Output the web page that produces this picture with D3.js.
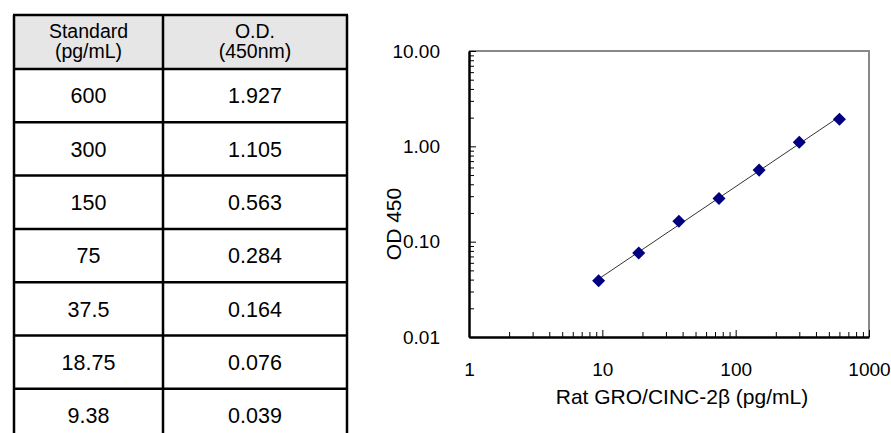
<!DOCTYPE html>
<html>
<head>
<meta charset="utf-8">
<script src="https://cdn.jsdelivr.net/npm/d3@7/dist/d3.min.js"></script>
<style>
  body { margin: 0; background: #fff; }
  svg { display: block; font-family: "Liberation Sans", Arial, sans-serif; }
</style>
</head>
<body>
<svg id="viz" width="891" height="433"></svg>
<script>
// standards table + curve data
const standards = [600, 300, 150, 75, 37.5, 18.75, 9.38]
const standardLabels = ["600", "300", "150", "75", "37.5", "18.75", "9.38"]
const odValues = [1.927, 1.105, 0.563, 0.284, 0.164, 0.076, 0.039]
const odLabels = ["1.927", "1.105", "0.563", "0.284", "0.164", "0.076", "0.039"]
const headerCol1 = ["Standard", "(pg/mL)"]
const headerCol2 = ["O.D.", "(450nm)"]
const yMajorTicks = [0.01, 0.1, 1, 10]
const xMajorTicks = [1, 10, 100, 1000]

const svg = d3.select("#viz")

// ---- table ----
const tbl = { left: 14, mid: 163, right: 347, top: 15, headBottom: 69, rowH: 53.3 }
const table = svg.append("g")

table.append("rect")
  .attr("x", tbl.left).attr("y", tbl.top)
  .attr("width", tbl.right - tbl.left).attr("height", tbl.headBottom - tbl.top)
  .attr("fill", "#e6e6e6")

const rowY = d3.range(standards.length + 1).map(i => tbl.headBottom + i * tbl.rowH)

// horizontal lines
table.selectAll(".hline").data([tbl.top, ...rowY]).enter().append("line")
  .attr("x1", tbl.left - 1).attr("x2", tbl.right + 1)
  .attr("y1", d => d).attr("y2", d => d)
  .attr("stroke", "#000").attr("stroke-width", 2.5)

// vertical lines
table.selectAll(".vline").data([tbl.left, tbl.mid, tbl.right]).enter().append("line")
  .attr("x1", d => d).attr("x2", d => d)
  .attr("y1", tbl.top).attr("y2", 440)
  .attr("stroke", "#000").attr("stroke-width", 2.5)

const c1 = (tbl.left + tbl.mid) / 2, c2 = (tbl.mid + tbl.right) / 2

function headerText(lines, cx) {
  table.selectAll(null).data(lines).enter().append("text")
    .attr("x", cx)
    .attr("y", (d, i) => 38 + i * 20)
    .attr("text-anchor", "middle")
    .attr("font-size", 19.5)
    .text(d => d)
}
headerText(headerCol1, c1)
headerText(headerCol2, c2)

table.selectAll(".std").data(standardLabels).enter().append("text")
  .attr("x", c1)
  .attr("y", (d, i) => rowY[i] + tbl.rowH / 2)
  .attr("dy", "0.36em")
  .attr("text-anchor", "middle")
  .attr("font-size", 21.5)
  .text(d => d)

table.selectAll(".od").data(odLabels).enter().append("text")
  .attr("x", c2)
  .attr("y", (d, i) => rowY[i] + tbl.rowH / 2)
  .attr("dy", "0.36em")
  .attr("text-anchor", "middle")
  .attr("font-size", 21.5)
  .text(d => d)

// ---- chart ----
const plot = { left: 469, right: 869, top: 51, bottom: 337 }

const x = d3.scaleLog().domain([1, 1000]).range([plot.left, plot.right])
const y = d3.scaleLog().domain([0.01, 10]).range([plot.bottom, plot.top])

const minorOf = ticks => d3.merge(ticks.slice(0, -1).map(t => d3.range(2, 10).map(k => t * k)))

const chart = svg.append("g")

// top/right frame (gray)
chart.append("path")
  .attr("d", `M${plot.left},${plot.top}H${plot.right}V${plot.bottom}`)
  .attr("fill", "none").attr("stroke", "#888").attr("stroke-width", 2)

// y axis
chart.append("g")
  .attr("transform", `translate(${plot.left},0)`)
  .call(d3.axisLeft(y).tickValues(minorOf(yMajorTicks)).tickSizeInner(-5).tickSizeOuter(0).tickFormat(""))
  .call(g => g.select(".domain").remove())
chart.append("g")
  .attr("transform", `translate(${plot.left},0)`)
  .call(d3.axisLeft(y).tickValues(yMajorTicks).tickSizeInner(-7).tickSizeOuter(0).tickPadding(29).tickFormat(d3.format(".2f")))
  .call(g => g.select(".domain").attr("stroke-width", 2.5))
  .call(g => g.selectAll("text").attr("font-size", 19).attr("font-family", null).attr("fill", "#000"))

// x axis
chart.append("g")
  .attr("transform", `translate(0,${plot.bottom})`)
  .call(d3.axisBottom(x).tickValues(minorOf(xMajorTicks)).tickSizeInner(-5).tickSizeOuter(0).tickFormat(""))
  .call(g => g.select(".domain").remove())
chart.append("g")
  .attr("transform", `translate(0,${plot.bottom})`)
  .call(d3.axisBottom(x).tickValues(xMajorTicks).tickSizeInner(-7).tickSizeOuter(0).tickPadding(26).tickFormat(d3.format("d")))
  .call(g => g.select(".domain").attr("stroke-width", 2.5))
  .call(g => g.selectAll("text").attr("font-size", 19).attr("font-family", null).attr("fill", "#000"))

chart.selectAll(".tick line").attr("stroke", "#000")

// axis titles
chart.append("text")
  .attr("x", 682)
  .attr("y", 404)
  .attr("text-anchor", "middle")
  .attr("font-size", 21)
  .text("Rat GRO/CINC-2β (pg/mL)")

chart.append("text")
  .attr("transform", "translate(401,224) rotate(-90)")
  .attr("text-anchor", "middle")
  .attr("font-size", 21)
  .text("OD 450")

// power trendline (least squares in log-log), spanning the data range
const pts = standards.map((s, i) => ({ x: s, y: odValues[i] })).sort((a, b) => a.x - b.x)
const lx = pts.map(d => Math.log10(d.x)), ly = pts.map(d => Math.log10(d.y))
const mx = d3.mean(lx), my = d3.mean(ly)
const slope = d3.sum(lx, (v, i) => (v - mx) * (ly[i] - my)) / d3.sum(lx, v => (v - mx) ** 2)
const fit = v => Math.pow(10, my + slope * (Math.log10(v) - mx))
const xExt = d3.extent(pts, d => d.x)
const fitPts = xExt.map(v => ({ x: v, y: fit(v) }))

chart.append("path")
  .datum(fitPts)
  .attr("d", d3.line().x(d => x(d.x)).y(d => y(d.y)))
  .attr("fill", "none").attr("stroke", "#333").attr("stroke-width", 1)

chart.selectAll(".pt").data(pts).enter().append("path")
  .attr("d", d3.symbol(d3.symbolSquare, 85))
  .attr("transform", d => `translate(${x(d.x)},${y(d.y)}) rotate(45)`)
  .attr("fill", "#000080")
</script>
</body>
</html>
